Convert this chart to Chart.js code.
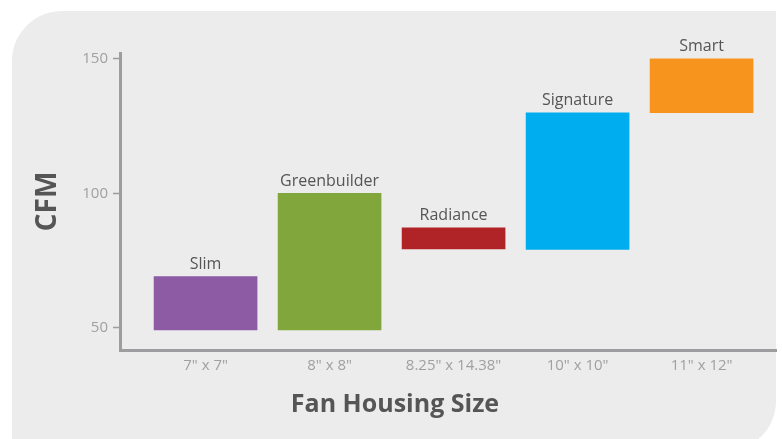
<!DOCTYPE html>
<html>
<head>
<meta charset="utf-8">
<script src="https://cdn.jsdelivr.net/npm/chart.js@4"></script>
<style>
  body { margin: 0; background: #fff; }
  #wrap { position: relative; width: 782px; height: 439px; overflow: hidden; }
  #panel { position: absolute; left: 12px; top: 11px; width: 764px; height: 440px;
           background: #ececec; border-radius: 50px 0 50px 0; }
  #fanChart { position: absolute; left: 0; top: 0; }
</style>
</head>
<body>
<div id="wrap">
  <div id="panel"></div>
  <canvas id="fanChart" width="782" height="439"></canvas>
</div>
<script>
var sizes = ['7" x 7"', '8" x 8"', '8.25" x 14.38"', '10" x 10"', '11" x 12"'];
var models = ['Slim', 'Greenbuilder', 'Radiance', 'Signature', 'Smart'];
var cfmLow = [49.3, 49.3, 79.4, 79.2, 130];
var cfmHigh = [69.1, 100, 87.2, 130, 150];
var yTicks = [50, 100, 150];
var colors = ['#8d5ba3', '#80a63c', '#b02327', '#00aeef', '#f7941d'];

var fontFamily = '"Open Sans", "Noto Sans", sans-serif';

var barData = sizes.map(function (s, i) {
    return { x: i, y: [cfmLow[i], cfmHigh[i]] };
});

// model names above each bar
var modelLabels = {
    id: 'modelLabels',
    afterDatasetsDraw: function (chart) {
        var ctx = chart.ctx;
        var meta = chart.getDatasetMeta(0);
        ctx.save();
        ctx.font = '16px ' + fontFamily;
        ctx.fillStyle = '#555';
        ctx.textAlign = 'center';
        ctx.textBaseline = 'bottom';
        meta.data.forEach(function (bar, i) {
            ctx.fillText(models[i], bar.x, bar.y - 4);
        });
        ctx.restore();
    }
};

var fanChart = new Chart(document.getElementById('fanChart').getContext('2d'), {
    type: 'bar',
    data: {
        datasets: [{
            label: 'CFM',
            data: barData,
            backgroundColor: colors,
            borderWidth: 0,
            barThickness: 103
        }]
    },
    options: {
        responsive: false,
        animation: false,
        layout: { padding: { left: 14, right: 6, top: 53, bottom: 19 } },
        plugins: {
            legend: { display: false },
            tooltip: { enabled: false },
            title: {
                display: true,
                position: 'bottom',
                text: 'Fan Housing Size',
                color: '#555',
                padding: 0,
                font: { family: fontFamily, size: 25, weight: 'bold' }
            }
        },
        scales: {
            x: {
                type: 'linear',
                offset: false,
                min: -0.69,
                max: 4.6,
                afterBuildTicks: function (scale) {
                    scale.ticks = sizes.map(function (s, i) { return { value: i }; });
                },
                afterFit: function (scale) { scale.height = 40; },
                grid: { display: false, drawTicks: false },
                border: { display: true, color: '#9d9d9f', width: 3 },
                ticks: {
                    color: '#a0a0a0',
                    padding: 7,
                    font: { family: fontFamily, size: 15 },
                    callback: function (v) { return sizes[v]; }
                }
            },
            y: {
                min: 41.8,
                max: 152.2,
                afterBuildTicks: function (scale) {
                    scale.ticks = yTicks.map(function (v) { return { value: v }; });
                },
                afterFit: function (scale) { scale.width = 106; },
                grid: { display: true, drawOnChartArea: false, drawTicks: true, tickLength: 7, tickColor: '#9d9d9f', tickWidth: 1.5 },
                border: { display: true, color: '#9d9d9f', width: 3 },
                ticks: {
                    color: '#a0a0a0',
                    padding: 5,
                    font: { family: fontFamily, size: 15 }
                },
                title: {
                    display: true,
                    text: 'CFM',
                    color: '#555',
                    padding: { top: 17, bottom: 0 },
                    font: { family: fontFamily, size: 28, weight: 'bold' }
                }
            }
        }
    },
    plugins: [modelLabels]
});
</script>
</body>
</html>
